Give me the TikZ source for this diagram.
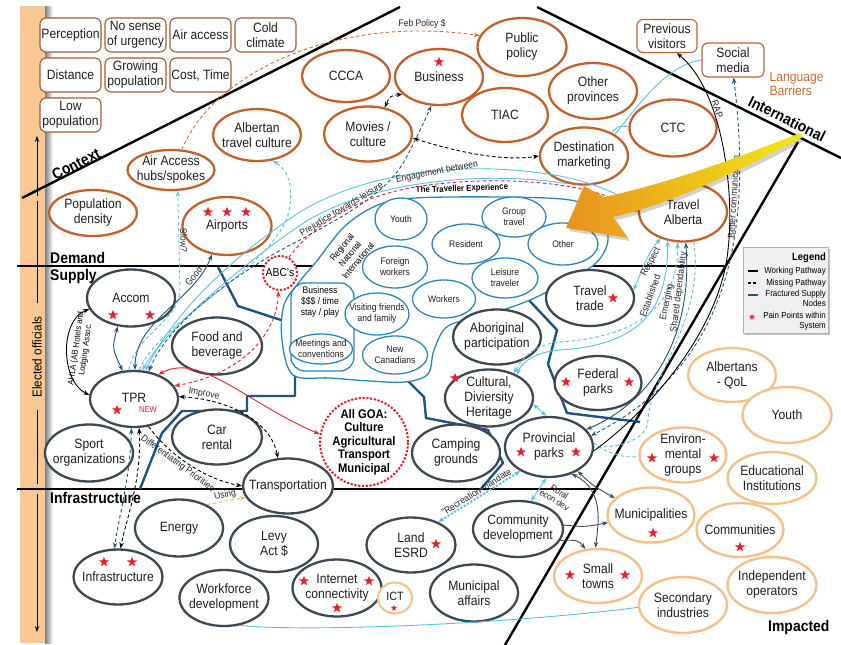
\documentclass[tikz,border=0pt]{standalone}
\usepackage{fontspec}
\setmainfont{Liberation Sans}[FakeStretch=0.9]
\usetikzlibrary{shapes.geometric,arrows.meta,shadows}
\newcommand\fsz[2]{\fontsize{#1}{#2}\selectfont}
\definecolor{ctxbrown}{HTML}{A65A32}
\definecolor{ovalor}{HTML}{C4602C}
\definecolor{supgray}{HTML}{3C4852}
\definecolor{expblue}{HTML}{2B86C0}
\definecolor{skyc}{HTML}{55C2EC}
\definecolor{navyc}{HTML}{1E5483}
\definecolor{peach}{HTML}{F6C08A}
\definecolor{starred}{HTML}{E8202A}
\definecolor{barc}{HTML}{F8C792}
\definecolor{febc}{HTML}{E2692E}
\definecolor{usingc}{HTML}{F3AE66}
\definecolor{langc}{HTML}{D2692C}
\definecolor{linkgray}{HTML}{3E4A52}
\definecolor{arrowamber}{HTML}{E8921E}
\definecolor{arrowlemon}{HTML}{F2E81A}
\tikzset{
  base/.style={font=\fsz{13.5}{15}, align=center, text=black!88},
  wh/.style 2 args={minimum width=#1pt, minimum height=#2pt},
  ctxbox/.style={base, rectangle, draw=ctxbrown, line width=1.1pt, rounded corners=6pt, minimum width=61pt, minimum height=34pt, inner sep=1pt, fill=white},
  orbox/.style={base, rectangle, draw=ovalor, line width=1.1pt, rounded corners=6pt, inner sep=1pt, fill=white},
  ovl/.style={base, ellipse, inner xsep=-12pt, inner ysep=-6pt, fill=white},
  ctxell/.style={ovl, draw=ovalor, line width=2.3pt},
  supell/.style={ovl, draw=supgray, line width=2.3pt},
  impell/.style={ovl, draw=peach, line width=2.4pt},
  expell/.style={ovl, draw=expblue, line width=1.3pt, font=\fsz{9.5}{11}},
  pstar/.style={star, star points=5, star point ratio=2.4, fill=starred, draw=none, minimum size=10.5pt, inner sep=0pt},
  ministar/.style={pstar, minimum size=6.5pt},
  region/.style={line width=2.4pt, black},
  sect/.style={font=\bfseries\fsz{15.5}{17}, inner sep=0pt},
  lbl/.style={font=\fsz{9.5}{10.5}, inner sep=1pt, text=black!85},
  work/.style={line width=0.9pt},
  miss/.style={line width=0.9pt, dash pattern=on 3.5pt off 2.5pt},
  dotl/.style={line width=2pt, dash pattern=on 2.2pt off 1.6pt},
  frac/.style={line width=2.4pt, draw=navyc, line join=round},
  >={Stealth[length=6pt,width=4.5pt]},
}
\begin{document}
\begin{tikzpicture}[x=1pt,y=-1pt]
\useasboundingbox (0,0) rectangle (841,645);
\fill[white] (0,0) rectangle (841,645);

% ---- side bar: elected officials axis
\fill[barc] (20,6) rectangle (45,643);
\shade[left color=black!50, right color=white] (45,6) rectangle (53,643);
\coordinate (eoA) at (37,196); \coordinate (eoB) at (37,136);
\coordinate (eoC) at (37,201); \coordinate (eoD) at (37,303);
\coordinate (eoE) at (37,410); \coordinate (eoF) at (37,484);
\coordinate (eoG) at (37,494); \coordinate (eoH) at (37,632);
\draw[work,->] (eoA) -- (eoB);
\draw[work] (eoC) -- (eoD);
\draw[work] (eoE) -- (eoF);
\draw[work,->] (eoG) -- (eoH);
\node[rotate=90, font=\fsz{13}{14}] (eo) at (37,357) {Elected officials};

% ---- region boundaries
\coordinate (ctxA) at (22,198); \coordinate (ctxB) at (400,7);
\coordinate (intA) at (537,7);  \coordinate (intB) at (841,158);
\coordinate (impA) at (798,142); \coordinate (impB) at (505,645);
\coordinate (dsA) at (17,266);  \coordinate (dsB) at (726,266);
\coordinate (infA) at (17,489); \coordinate (infB) at (598,489);
\draw[region] (ctxA) -- (ctxB);
\draw[region] (intA) -- (intB);
\draw[region] (impA) -- (impB);
\draw[region] (dsA) -- (dsB);
\draw[region] (infA) -- (infB);

\node[sect, rotate=27] (lctx) at (76,164) {Context};
\node[sect, anchor=base west] (ldem) at (50,263) {Demand};
\node[sect, anchor=base west] (lsup) at (50,280) {Supply};
\node[sect, anchor=base west] (linf) at (50,503) {Infrastructure};
\node[sect, anchor=base west] (limp) at (768,631) {Impacted};
\node[sect, rotate=-26.5] (lint) at (787,119) {International};

% ---- fractured supply nodes
\draw[frac] (218,267) -- (238,306) -- (284,321);
\draw[frac] (140,489) -- (162,433) -- (182,411) -- (247,411) -- (247,396) -- (295,396) -- (295,373);
\draw[frac] (407,380) -- (424,397) -- (426,418) -- (488,430) -- (503,463) -- (480,490);
\draw[frac] (527,298) -- (557,330) -- (548,364) -- (567,413) -- (640,422);

% ---- the traveller experience
\path[draw=expblue, fill=white, line width=1.3pt] plot[smooth cycle, tension=.55] coordinates {
  (284,305) (300,281) (316,262) (345,226) (378,205) (415,198) (500,197) (570,200)
  (600,213) (608,240) (596,263) (565,282) (530,300) (485,316) (448,326) (434,350)
  (428,374) (405,382) (370,381) (330,378) (293,375) (282,340)};
\draw[expblue, line width=1.3pt, rounded corners=14pt] (291,283) rectangle (354,371);
\node[font=\bfseries\fsz{8.7}{10}, rotate=2] (tte) at (462,189) {The Traveller Experience};
\node[font=\fsz{9}{10.5}, rotate=50, align=center] (rni) at (350,254) {Regional\\National\\International};
\node[font=\fsz{9.5}{11}, align=center] (bizt) at (320,302) {Business\\\$\$\$ / time\\stay / play};
\node[expell, wh={52}{42}] (youthb) at (401,219) {Youth};
\node[expell, wh={64}{40}] (group) at (514,217) {Group\\travel};
\node[expell, wh={68}{40}] (resid) at (466,244) {Resident};
\node[expell, wh={70}{42}] (other) at (563,244) {Other};
\node[expell, wh={65}{42}] (forw) at (395,267) {Foreign\\workers};
\node[expell, wh={66}{40}] (leis) at (505,278) {Leisure\\traveler};
\node[expell, wh={63}{38}] (work) at (444,299) {Workers};
\node[expell, wh={64}{42}] (vis) at (377,314) {Visiting friends\\and family};
\node[expell, wh={65}{38}] (newc) at (395,355) {New\\Canadians};
\node[expell, wh={63}{30}] (meet) at (321,349) {Meetings and\\conventions};

% ---- context factors
\node[ctxbox] (perc) at (70.5,35) {Perception};
\node[ctxbox] (urg)  at (135.5,35) {No sense\\of urgency};
\node[ctxbox] (aira) at (200.5,35) {Air access};
\node[ctxbox] (cold) at (265.5,35) {Cold\\climate};
\node[ctxbox] (dist) at (70.5,75) {Distance};
\node[ctxbox] (grow) at (135.5,75) {Growing\\population};
\node[ctxbox] (cost) at (200.5,75) {Cost, Time};
\node[ctxbox] (lowp) at (70.5,115) {Low\\population};

% ---- demand side
\node[ctxell, wh={87}{40}] (airhub) at (171,170) {Air Access\\hubs/spokes};
\node[ctxell, wh={88}{46}] (popd) at (93,213) {Population\\density};
\node[ctxell, wh={88}{52}] (albt) at (257,135) {Albertan\\travel culture};
\node[ctxell, wh={88}{52}] (ccca) at (346,76) {CCCA};
\node[ctxell, wh={88}{56}] (bus) at (439,77) {Business};
\node[ctxell, wh={89}{58}] (pub) at (522,47) {Public\\policy};
\node[ctxell, wh={88}{55}] (mov) at (368,134) {Movies /\\culture};
\node[ctxell, wh={86}{54}] (tiac) at (505,115) {TIAC};
\node[ctxell, wh={88}{56}] (oprov) at (593,91) {Other\\provinces};
\node[ctxell, wh={88}{57}] (dmk) at (584,156) {Destination\\marketing};
\node[ctxell, wh={87}{57}] (ctc) at (673,128) {CTC};
\node[ctxell, wh={88}{59}] (ta) at (683,212) {Travel\\Alberta};
\node[ctxell, wh={89}{58}] (airp) at (227,226) {\raisebox{-3pt}{Airports}};
\node[orbox, wh={60}{33}] (prev) at (667,36) {Previous\\visitors};
\node[orbox, wh={62}{34}] (social) at (733,60) {Social\\media};
\node[anchor=west, align=left, text=langc, font=\fsz{13.5}{14.5}] (lang) at (766,84) {Language\\Barriers};

% ---- supply side
\node[supell, wh={88}{57}] (accom) at (131,298) {Accom};
\node[supell, wh={90}{57}] (fb) at (217,346) {Food and\\beverage};
\node[supell, wh={88}{56}] (tpr) at (134,399) {\raisebox{2pt}{TPR}};
\node[supell, wh={88}{57}] (sport) at (89,453) {Sport\\organizations};
\node[supell, wh={90}{55}] (car) at (217,437) {Car\\rental};
\node[supell, wh={90}{55}] (trans) at (288,486) {Transportation};
\node[supell, wh={88}{57}] (energy) at (179,528) {Energy};
\node[supell, wh={88}{56}] (levy) at (274,544) {Levy\\Act \$};
\node[supell, wh={89}{55}] (infra) at (118,577) {Infrastructure};
\node[supell, wh={89}{56}] (wf) at (224,598) {Workforce\\development};
\node[supell, wh={89}{57}] (inet) at (337,588) {Internet\\connectivity};
\node[supell, wh={89}{55}] (land) at (411,545) {Land\\ESRD};
\node[supell, wh={88}{57}] (muni) at (474,593) {Municipal\\affairs};
\node[supell, wh={90}{56}] (comm) at (518,529) {Community\\development};
\node[supell, wh={88}{57}] (camp) at (456,453) {Camping\\grounds};
\node[supell, wh={88}{60}] (ppark) at (549,447) {Provincial\\parks};
\node[supell, wh={88}{57}] (cult) at (489,398) {Cultural,\\Diviersity\\Heritage};
\node[supell, wh={88}{55}] (abor) at (497,337) {Aboriginal\\participation};
\node[supell, wh={87}{54}] (fed) at (598,383) {Federal\\parks};
\node[supell, wh={88}{56}] (ttrade) at (590,298) {Travel\\trade};
\node[ovl, draw=peach, line width=2pt, wh={34}{31}, font=\fsz{12}{13}] (ict) at (395,598) {\raisebox{3pt}{ICT}};
\node[circle, draw=starred, dotl, fill=white, minimum size=34pt, inner sep=0pt, font=\fsz{11.5}{12}] (abc) at (280,273) {ABC's};
\node[circle, draw=starred, dotl, fill=white, minimum size=88pt, inner sep=-8pt, align=center, font=\bfseries\fsz{12.5}{13.5}] (goa) at (364,442) {All GOA:\\Culture\\Agricultural\\Transport\\Municipal};
\node[text=starred, font=\fsz{8.5}{9}, inner sep=0pt] (newl) at (148,410) {NEW};

% ---- impacted
\node[impell, wh={88}{54}] (albq) at (732,375) {Albertans\\- QoL};
\node[impell, wh={89}{56}] (youth) at (787,415) {Youth};
\node[impell, wh={87}{55}] (env) at (683,455) {Environ-\\mental\\groups};
\node[impell, wh={89}{52}] (edu) at (772,478) {Educational\\Institutions};
\node[impell, wh={87}{55}] (munic) at (651,515) {Municipalities};
\node[impell, wh={87}{54}] (commu) at (740,530) {Communities};
\node[impell, wh={88}{54}] (small) at (598,576) {Small\\towns};
\node[impell, wh={89}{56}] (indep) at (772,585) {Independent\\operators};
\node[impell, wh={88}{56}] (sec) at (683,605) {Secondary\\industries};

% ---- pain points
\node[pstar] (st1) at (208,212) {};
\node[pstar] (st2) at (227,212) {};
\node[pstar] (st3) at (246,212) {};
\node[pstar] (st4) at (439,62) {};
\node[pstar] (st5) at (113,315) {};
\node[pstar] (st6) at (150,315) {};
\node[pstar] (st7) at (117,410) {};
\node[pstar] (st8) at (104,562) {};
\node[pstar] (st9) at (132,562) {};
\node[pstar] (st10) at (304,581) {};
\node[pstar] (st11) at (369,581) {};
\node[pstar] (st12) at (337,608) {};
\node[ministar] (st13) at (394,608) {};
\node[pstar] (st14) at (436,544) {};
\node[pstar] (st15) at (521,452) {};
\node[pstar] (st16) at (576,452) {};
\node[pstar] (st17) at (455,378) {};
\node[pstar] (st18) at (566,382) {};
\node[pstar] (st19) at (629,382) {};
\node[pstar] (st20) at (613,298) {};
\node[pstar] (st21) at (652,458) {};
\node[pstar] (st22) at (714,458) {};
\node[pstar] (st23) at (653,533) {};
\node[pstar] (st24) at (740,547) {};
\node[pstar] (st25) at (570,575) {};
\node[pstar] (st26) at (625,575) {};

% ---- pathways in the demand area
\draw[febc, miss, ->] (airhub.62) .. controls (215,70) and (340,15) .. (pub.165)
  node[pos=.86, above=1pt, lbl] (febl) {Feb Policy \$};
\draw[miss, <->] (bus.205) .. controls (390,96) .. (mov.58);
\draw[miss, <->] (mov.-5) .. controls (450,150) and (500,162) .. (dmk.180);
\draw[skyc, work] (dmk.35) .. controls (635,110) and (665,65) .. (social.180);
\draw[skyc, work] (ctc.178) .. controls (618,126) .. (dmk.40);

% ---- pathways around TPR
\draw[skyc, miss, ->] (tpr.100) .. controls (135,335) and (180,320) .. (180,290) -- (airhub.-72)
  node[midway, sloped, above, lbl] (lslow) {Slow?};
\draw[navyc, work, <->] (tpr.88) .. controls (135,320) and (195,300) .. (airp.-118)
  node[pos=.8, sloped, above, lbl] (lgood) {Good};
\draw[skyc, miss, ->] (tpr.80) .. controls (160,320) and (270,270) .. (288,215) .. controls (294,190) and (290,172) .. (albt.-58);
\draw[skyc, work, <-] (tpr.74) .. controls (165,330) and (245,262) .. (305,222) .. controls (370,182) and (480,170) .. (dmk.-120);
\draw[skyc, work, <-] (tpr.68) .. controls (175,310) and (235,255) .. (300,212) .. controls (360,175) and (460,158) .. (560,176) .. controls (600,184) and (620,196) .. (ta.172);
\draw[navyc, miss, <->] (tpr.62) .. controls (170,320) and (240,270) .. (300,240) .. controls (345,215) and (385,195) .. (405,160)
  node[pos=.35, sloped, above, lbl] (lprej) {Prejudice towards leisure}
  .. controls (418,135) and (425,120) .. (bus.-105);
\draw[starred, miss, ->] (abc.60) .. controls (305,235) and (345,200) .. (410,188) .. controls (480,175) and (590,178) .. (ta.180);
\node[lbl, rotate=11] (lengage) at (437,172) {Engagement between};
\draw[starred, miss, <->] (abc.-95) .. controls (277,335) and (240,375) .. (tpr.18);
\draw[starred, work, <->] (tpr.45) .. controls (200,352) and (245,402) .. (goa.170);
\draw[miss, <->] (tpr.3) .. controls (235,400) and (272,425) .. (trans.110)
  node[pos=.15, sloped, above, lbl] (limpr) {Improve};
\draw[miss, ->] (tpr.-62) .. controls (165,450) and (200,478) .. (trans.180)
  node[pos=.45, sloped, below, lbl] (ldiff) {Differentiating Priorities};
\draw[navyc, work, <->] (accom.-115) .. controls (112,348) .. (tpr.112);
\draw[work, <->] (accom.195) .. controls (60,320) and (60,380) .. (tpr.175);
\node[font=\fsz{8.5}{9.5}, rotate=82, align=center, inner sep=0pt] (lahla) at (81,349) {AHLA (AB Hotels and\\Lodging Assoc.};
\draw[navyc, miss, <->] (tpr.-95) .. controls (130,480) and (118,520) .. (infra.97);
\draw[miss, <->] (tpr.-80) .. controls (142,480) and (126,520) .. (infra.85);
\draw[usingc, miss, ->] (energy.40) -- (trans.195)
  node[midway, sloped, above, lbl] (lusing) {Using};

% ---- pathways around Travel Alberta and the parks
\draw[skyc, work, <->] (ta.-130) .. controls (648,252) and (640,275) .. (ttrade.10);
\node[lbl, rotate=62] (lresp) at (651,262) {Respect};
\draw[skyc, work, <->] (ta.-118) .. controls (668,310) and (640,345) .. (560,350)
  .. controls (535,352) and (522,362) .. (cult.40);
\node[lbl, rotate=70] (lest) at (650,296) {Established};
\draw[skyc, miss, <->] (ta.-100) .. controls (678,310) and (632,337) .. (560,342)
  .. controls (535,344) and (522,358) .. (cult.45);
\node[lbl, rotate=78] (lemer) at (667,302) {Emerging};
\draw[navyc, work, <->] (ta.-85) .. controls (692,320) and (665,395) .. (ppark.25)
  node[pos=.22, sloped, above, lbl] (lshared) {Shared dependability};
\draw[skyc, miss] (ta.-70) .. controls (705,320) and (650,375) .. (648,420) .. controls (647,440) and (620,448) .. (ppark.0);
\draw[skyc, miss] (ppark.5) .. controls (610,455) and (625,458) .. (env.182);
\draw[navyc, miss, <->] (social.-88) .. controls (755,250) and (720,370) .. (ppark.15)
  node[pos=.25, sloped, above, lbl] (lbetter) {Better communication};
\draw[work, <-] (prev.-60) .. controls (722,90) and (735,190) .. (728,250)
  node[pos=.35, sloped, above, lbl] (lrap) {RAP}
  .. controls (720,330) and (650,410) .. (ppark.-5);
\draw[skyc, work, <->] (cult.-8) -- (ppark.95);
\draw[skyc, work, <->] (ppark.-95) -- (comm.65);
\node[font=\fsz{9}{9.5}, text=black!85, rotate=-32, align=center, inner sep=0pt] (lrural) at (557,496) {Rural\\econ dev};
\draw[skyc, dotl, <->] (ppark.-140) -- (land.40)
  node[midway, sloped, above, lbl] (lrec) {"Recreation mandate};
\draw[linkgray, work, <->] (ppark.-40) .. controls (592,485) .. (munic.155);
\draw[linkgray, work, <->] (ppark.-50) .. controls (605,490) and (598,525) .. (small.95);
\draw[linkgray, work, ->] (comm.5) .. controls (585,527) .. (munic.190);
\draw[linkgray, work, ->] (comm.-15) .. controls (578,540) .. (small.115);
\draw[skyc, work] (wf.-60) .. controls (300,632) and (500,625) .. (sec.183);

% ---- focus arrow
\fill[black, opacity=.18] (803,137) .. controls (720,169) and (662,189) .. (606,200) -- (587,190) -- (569,231) -- (630,241) -- (616,220) .. controls (672,208) and (742,174) .. (806,140) -- cycle;
\shade[left color=arrowamber, right color=arrowlemon] (800,133) .. controls (720,165) and (660,185) .. (604,197) -- (584,186) -- (566,228) -- (628,238) -- (613,217) .. controls (670,205) and (740,170) .. (803,137) -- cycle;

% ---- legend
\node[draw=gray!60, fill=gray!12, minimum width=85pt, minimum height=86pt, drop shadow={shadow xshift=2pt, shadow yshift=-2pt, opacity=.45}] (legend) at (785.5,290) {};
\node[font=\bfseries\fsz{10.5}{11}, anchor=east, inner sep=0pt] (legt) at (826,258) {Legend};
\coordinate (lw1) at (748,271); \coordinate (lw2) at (758,271);
\coordinate (lm1) at (748,283); \coordinate (lm2) at (758,283);
\coordinate (lf1) at (748,295); \coordinate (lf2) at (758,295);
\draw[line width=1.6pt] (lw1) -- (lw2);
\draw[line width=1.6pt, dash pattern=on 3pt off 2pt] (lm1) -- (lm2);
\draw[line width=1.8pt, navyc] (lf1) -- (lf2);
\node[ministar] (lstar) at (752,317) {};
\node[font=\fsz{8.8}{9.8}, anchor=east, inner sep=0pt] (legw) at (826,271) {Working Pathway};
\node[font=\fsz{8.8}{9.8}, anchor=east, inner sep=0pt] (legm) at (826,283) {Missing Pathway};
\node[font=\fsz{8.8}{9.8}, anchor=north east, align=right, inner sep=0pt] (legf) at (826,290) {Fractured Supply\\Nodes};
\node[font=\fsz{8.8}{9.8}, anchor=north east, align=right, inner sep=0pt] (legp) at (826,312) {Pain Points within\\System};
\end{tikzpicture}
\end{document}
